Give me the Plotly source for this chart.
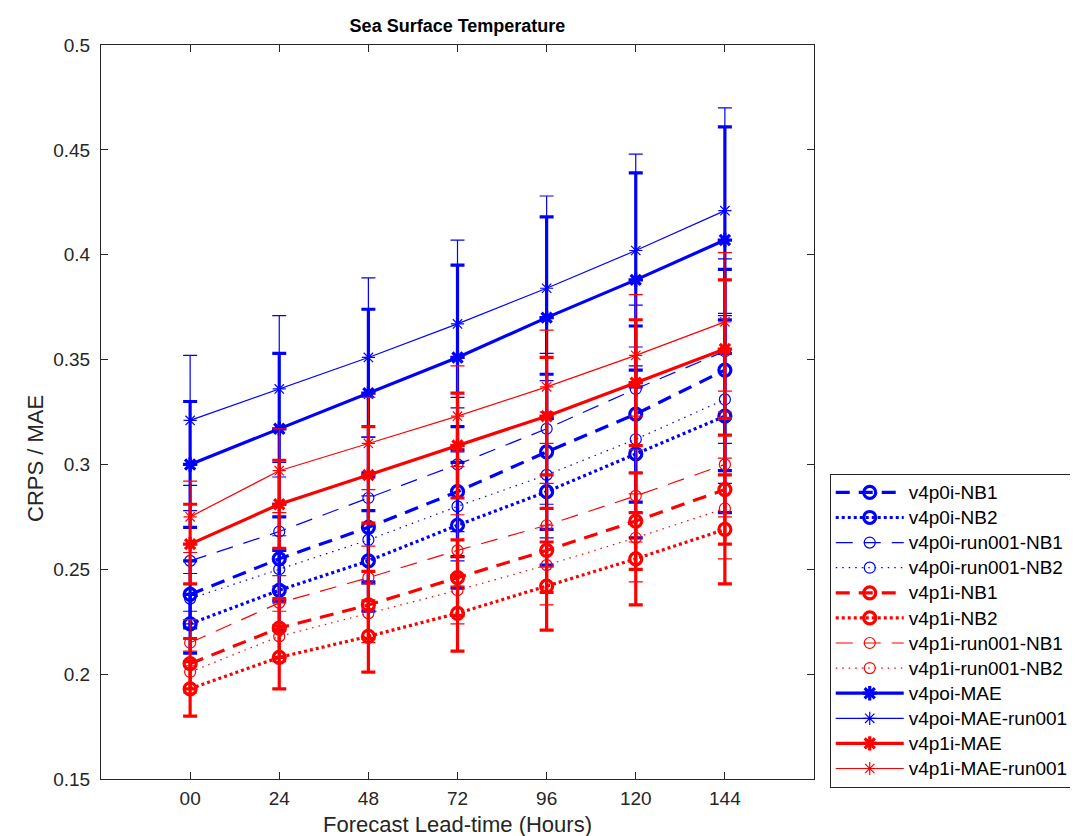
import plotly.graph_objects as go

lead_hours = [0, 24, 48, 72, 96, 120, 144]
tick_labels = ["00", "24", "48", "72", "96", "120", "144"]

names = [
    "v4p0i-NB1", "v4p0i-NB2", "v4p0i-run001-NB1", "v4p0i-run001-NB2",
    "v4p1i-NB1", "v4p1i-NB2", "v4p1i-run001-NB1", "v4p1i-run001-NB2",
    "v4poi-MAE", "v4poi-MAE-run001", "v4p1i-MAE", "v4p1i-MAE-run001",
]

v4p0i_NB1 = [0.238, 0.255, 0.270, 0.287, 0.306, 0.324, 0.345]
v4p0i_NB2 = [0.224, 0.240, 0.254, 0.271, 0.287, 0.305, 0.323]
v4p0i_run001_NB1 = [0.254, 0.268, 0.284, 0.300, 0.317, 0.336, 0.354]
v4p0i_run001_NB2 = [0.236, 0.250, 0.264, 0.280, 0.295, 0.312, 0.331]
v4p1i_NB1 = [0.205, 0.222, 0.233, 0.246, 0.259, 0.273, 0.288]
v4p1i_NB2 = [0.193, 0.208, 0.218, 0.229, 0.242, 0.255, 0.269]
v4p1i_run001_NB1 = [0.215, 0.234, 0.246, 0.259, 0.271, 0.285, 0.300]
v4p1i_run001_NB2 = [0.201, 0.218, 0.229, 0.240, 0.252, 0.265, 0.279]
v4poi_MAE = [0.300, 0.317, 0.334, 0.351, 0.370, 0.388, 0.407]
v4poi_MAE_run001 = [0.321, 0.336, 0.351, 0.367, 0.384, 0.402, 0.421]
v4p1i_MAE = [0.262, 0.281, 0.295, 0.309, 0.323, 0.339, 0.355]
v4p1i_MAE_run001 = [0.275, 0.297, 0.310, 0.323, 0.337, 0.352, 0.368]

err_v4p0i_NB1 = [0.016, 0.020, 0.026, 0.031, 0.037, 0.042, 0.048]
err_v4p0i_NB2 = [0.014, 0.019, 0.024, 0.030, 0.035, 0.040, 0.046]
err_v4p0i_run001_NB1 = [0.024, 0.026, 0.029, 0.032, 0.036, 0.040, 0.044]
err_v4p0i_run001_NB2 = [0.012, 0.016, 0.021, 0.026, 0.030, 0.035, 0.040]
err_v4p1i_NB1 = [0.012, 0.014, 0.016, 0.018, 0.020, 0.023, 0.026]
err_v4p1i_NB2 = [0.013, 0.015, 0.017, 0.018, 0.021, 0.022, 0.026]
err_v4p1i_run001_NB1 = [0.011, 0.013, 0.015, 0.017, 0.020, 0.022, 0.025]
err_v4p1i_run001_NB2 = [0.010, 0.012, 0.014, 0.016, 0.019, 0.021, 0.024]
err_v4poi_MAE = [0.030, 0.036, 0.040, 0.044, 0.048, 0.051, 0.054]
err_v4poi_MAE_run001 = [0.031, 0.035, 0.038, 0.040, 0.044, 0.046, 0.049]
err_v4p1i_MAE = [0.019, 0.021, 0.023, 0.025, 0.028, 0.030, 0.033]
err_v4p1i_MAE_run001 = [0.017, 0.020, 0.022, 0.024, 0.027, 0.029, 0.033]

values = [v4p0i_NB1, v4p0i_NB2, v4p0i_run001_NB1, v4p0i_run001_NB2,
          v4p1i_NB1, v4p1i_NB2, v4p1i_run001_NB1, v4p1i_run001_NB2,
          v4poi_MAE, v4poi_MAE_run001, v4p1i_MAE, v4p1i_MAE_run001]
errors = [err_v4p0i_NB1, err_v4p0i_NB2, err_v4p0i_run001_NB1, err_v4p0i_run001_NB2,
          err_v4p1i_NB1, err_v4p1i_NB2, err_v4p1i_run001_NB1, err_v4p1i_run001_NB2,
          err_v4poi_MAE, err_v4poi_MAE_run001, err_v4p1i_MAE, err_v4p1i_MAE_run001]

BLUE = "#0000FF"
RED = "#FF0000"
THICK = 3.2
THIN = 1.2
# (color, width, dash, marker)
styles = [
    (BLUE, THICK, "14px,9px", "circle-open"),
    (BLUE, THICK, "3px,3px", "circle-open"),
    (BLUE, THIN, "17px,11px", "circle-open"),
    (BLUE, THIN, "1.5px,5px", "circle-open"),
    (RED, THICK, "14px,9px", "circle-open"),
    (RED, THICK, "3px,3px", "circle-open"),
    (RED, THIN, "17px,11px", "circle-open"),
    (RED, THIN, "1.5px,5px", "circle-open"),
    (BLUE, THICK, "solid", "asterisk-open"),
    (BLUE, THIN, "solid", "asterisk-open"),
    (RED, THICK, "solid", "asterisk-open"),
    (RED, THIN, "solid", "asterisk-open"),
]

FONT = "Liberation Sans, Arial, Helvetica, sans-serif"
TXT = "#262626"

fig = go.Figure()
for name, vals, errs, (col, w, dash, sym) in zip(names, values, errors, styles):
    fig.add_trace(go.Scatter(
        x=lead_hours, y=vals, name='<span style="font-size:19px">' + name + '</span>',
        mode="lines+markers",
        line=dict(color=col, width=w, dash=dash),
        marker=dict(symbol=sym, size=12 if w > 2 else 11, color=col,
                    line=dict(color=col, width=w)),
        error_y=dict(type="data", array=errs, visible=True, color=col,
                     thickness=w, width=7),
    ))

L, R, T, B = 93, 818, 37, 773

fig.update_layout(
    width=1078, height=836,
    paper_bgcolor="white", plot_bgcolor="white",
    margin=dict(l=L, r=1078 - R, t=T, b=836 - B),
    font=dict(family=FONT, size=18, color=TXT),
    title=dict(text="<b>Sea Surface Temperature</b>", x=(L + R) / 2 / 1078 - 6 / 1078, xanchor="center",
               y=1 - 18 / 836, yanchor="middle", yref="container",
               font=dict(family=FONT, size=18, color="black")),
    showlegend=True,
    legend=dict(x=(834 - L) / (R - L), xanchor="left", y=(B - 467) / (B - T), yanchor="top",
                bgcolor="white", bordercolor=TXT, borderwidth=1,
                font=dict(family=FONT, size=17, color="black"),
                itemwidth=68, tracegroupgap=0),
    annotations=[dict(text="CRPS / MAE", textangle=-90, xref="paper", yref="paper",
                      x=-(L - 27) / (R - L), y=(B - 452) / (B - T),
                      xanchor="center", yanchor="middle", showarrow=False,
                      font=dict(family=FONT, size=22, color=TXT))],
)

fig.update_xaxes(
    range=[-24, 168], tickvals=lead_hours, ticktext=tick_labels,
    ticks="inside", ticklen=7, tickcolor=TXT, tickwidth=1,
    showline=True, linecolor=TXT, linewidth=1, mirror="ticks",
    showgrid=False, zeroline=False, ticklabelstandoff=2,
    tickfont=dict(family=FONT, size=19, color=TXT),
    title=dict(text="Forecast Lead-time (Hours)", standoff=8,
               font=dict(family=FONT, size=22, color=TXT)),
)
fig.update_yaxes(
    range=[0.15, 0.5], tickvals=[0.15, 0.2, 0.25, 0.3, 0.35, 0.4, 0.45, 0.5],
    ticktext=["0.15", "0.2", "0.25", "0.3", "0.35", "0.4", "0.45", "0.5"],
    ticks="inside", ticklen=7, tickcolor=TXT, tickwidth=1,
    showline=True, linecolor=TXT, linewidth=1, mirror="ticks",
    showgrid=False, zeroline=False, ticklabelstandoff=6,
    tickfont=dict(family=FONT, size=19, color=TXT),
)

fig.write_html("out.html")
